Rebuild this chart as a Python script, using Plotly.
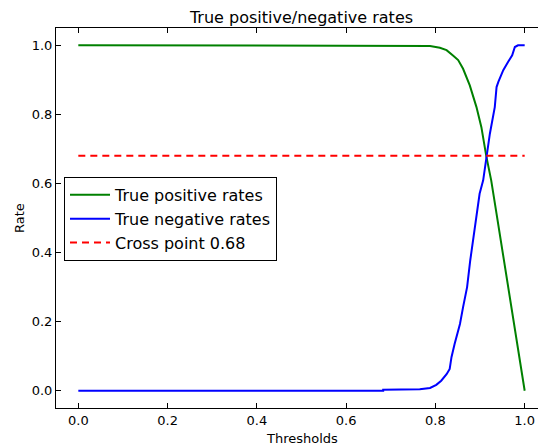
import plotly.graph_objects as go

tpr_thresh = [0.0, 0.76, 0.788, 0.81, 0.825, 0.84, 0.851, 0.862, 0.877, 0.892, 0.903,
              0.914, 0.925, 0.937, 0.955, 0.970, 0.985, 1.0]
tpr = [1.0, 1.0, 0.998, 0.993, 0.986, 0.97, 0.957, 0.932, 0.884, 0.821, 0.763,
       0.679, 0.609, 0.512, 0.367, 0.242, 0.116, 0.0]

tnr_thresh = [0.0, 0.683, 0.683, 0.765, 0.788, 0.802, 0.813, 0.825, 0.832, 0.836, 0.843,
              0.855, 0.862, 0.871, 0.878, 0.884, 0.890, 0.894, 0.899, 0.907, 0.914,
              0.922, 0.933, 0.937, 0.941, 0.952, 0.963, 0.972, 0.978, 0.985, 1.0]
tnr = [0.0, 0.0, 0.003, 0.004, 0.008, 0.017, 0.029, 0.048, 0.063, 0.097, 0.135,
       0.193, 0.242, 0.30, 0.377, 0.435, 0.483, 0.531, 0.570, 0.609, 0.679,
       0.744, 0.821, 0.879, 0.894, 0.928, 0.952, 0.971, 0.995, 1.0, 1.0]

cross_x = [0.0, 1.0]
cross_value = 0.68

tick_vals = [0.0, 0.2, 0.4, 0.6, 0.8, 1.0]
tick_text = ["0.0", "0.2", "0.4", "0.6", "0.8", "1.0"]

font = "DejaVu Sans"

fig = go.Figure()
fig.add_trace(go.Scatter(x=tpr_thresh, y=tpr, mode="lines", name="True positive rates",
                         line=dict(color="#008000", width=2)))
fig.add_trace(go.Scatter(x=tnr_thresh, y=tnr, mode="lines", name="True negative rates",
                         line=dict(color="#0000ff", width=2)))
fig.add_trace(go.Scatter(x=cross_x, y=[cross_value] * len(cross_x), mode="lines",
                         name="Cross point %.2f" % cross_value,
                         line=dict(color="#ff0000", width=2, dash="7px,5px")))

axis_common = dict(
    showgrid=False, zeroline=False, showline=True, linecolor="black", linewidth=1,
    mirror="ticks", ticks="inside", ticklen=5, tickcolor="black", tickwidth=1,
    tickvals=tick_vals, ticktext=tick_text, automargin=False,
    tickfont=dict(family=font, size=13, color="black"),
)

# page body adds an 8px margin, so the figure is shifted by 8px
fig.update_layout(
    width=540, height=437,
    margin=dict(l=48, r=1, t=20, b=37),
    paper_bgcolor="white", plot_bgcolor="white",
    title=dict(text="True positive/negative rates", x=0.5, xref="paper", xanchor="center",
               y=1 - 9 / 437, yref="container", yanchor="middle",
               font=dict(family=font, size=16, color="black")),
    xaxis=dict(range=[-0.05, 1.05], **axis_common),
    yaxis=dict(range=[-0.05, 1.05], **axis_common),
    legend=dict(x=0.0163, y=0.608, xanchor="left", yanchor="top",
                bgcolor="white", bordercolor="black", borderwidth=1,
                font=dict(family=font, size=16, color="black"),
                tracegroupgap=0, itemwidth=40),
    showlegend=True,
    annotations=[
        dict(text="Thresholds", xref="paper", yref="paper", x=0.5, y=-30 / 380,
             xanchor="center", yanchor="middle", showarrow=False,
             font=dict(family=font, size=13, color="black")),
        dict(text="Rate", xref="paper", yref="paper", x=-0.0754, y=0.5,
             xanchor="center", yanchor="middle", showarrow=False, textangle=-90,
             font=dict(family=font, size=13, color="black")),
    ],
)

fig.write_html("out.html")
